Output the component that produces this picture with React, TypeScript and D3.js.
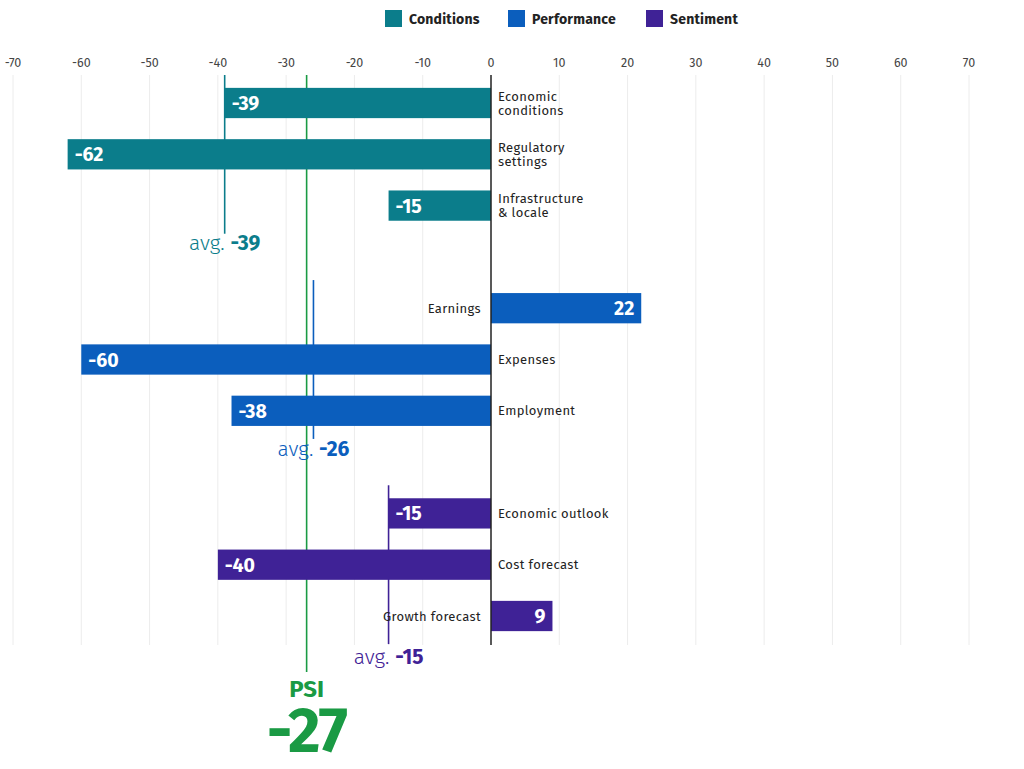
import React from "react";
import * as d3 from "d3";

const groups = ["Conditions", "Performance", "Sentiment"];
const groupColors = ["#0b7d8b", "#0b5ebd", "#3f2296"];
const categories = [
  ["Economic", "conditions"],
  ["Regulatory", "settings"],
  ["Infrastructure", "& locale"],
  ["Earnings"],
  ["Expenses"],
  ["Employment"],
  ["Economic outlook"],
  ["Cost forecast"],
  ["Growth forecast"],
];
const categoryGroup = [0, 0, 0, 1, 1, 1, 2, 2, 2];
const values = [-39, -62, -15, 22, -60, -38, -15, -40, 9];
const groupAverages = [-39, -26, -15];
const psiValue = -27;
const tickValues = [-70, -60, -50, -40, -30, -20, -10, 0, 10, 20, 30, 40, 50, 60, 70];

const W = 1024;
const H = 769;
const FONT = "'Fira Sans', Roboto, 'Noto Sans', sans-serif";
const PSI_COLOR = "#1a9a44";

export default function App() {
  const x = d3.scaleLinear().domain([-70, 70]).range([13, 969]);
  const slots = d3.range(categories.length + groups.length - 1);
  const y = d3
    .scaleBand<number>()
    .domain(slots)
    .range([77.35, 641.65])
    .paddingInner(0.41)
    .paddingOuter(0.205);
  const slotOf = (i: number) => i + categoryGroup[i];
  const bw = y.bandwidth();
  const gridTop = 75;
  const gridBottom = 645;
  const x0 = x(0);

  const legendX = [385, 508, 646];
  const avgLabelOffset = [16, 17, 20];
  const px = x(psiValue);

  return (
    <svg width={W} height={H} style={{ position: "absolute", left: 0, top: 0, fontFamily: FONT }}>
      <rect width={W} height={H} fill="#fff" />
      {/* legend */}
      {groups.map((g, i) => (
        <g key={g} transform={`translate(${legendX[i]},10)`}>
          <rect width={17} height={17} fill={groupColors[i]} />
          <text x={24} y={14} fontSize={14} fontWeight={700} fill="#222" letterSpacing={0.2}>
            {g}
          </text>
        </g>
      ))}
      {/* ticks and grid */}
      {tickValues.map((t) => (
        <g key={t}>
          <text x={x(t)} y={67} textAnchor="middle" fontSize={12.5} fill="#444">
            {t}
          </text>
          {t !== 0 && (
            <line x1={x(t)} x2={x(t)} y1={gridTop} y2={gridBottom} stroke="#ececec" strokeWidth={1} />
          )}
        </g>
      ))}
      {/* PSI line */}
      <line x1={px} x2={px} y1={gridTop} y2={672} stroke={PSI_COLOR} strokeWidth={1.6} />
      {/* group average lines */}
      {groups.map((g, gi) => {
        const idx = categoryGroup.map((c, i) => (c === gi ? i : -1)).filter((i) => i >= 0);
        const first = idx[0];
        const last = idx[idx.length - 1];
        const top = gi === 0 ? gridTop : (y(slotOf(first)) as number) - 13;
        const bottom = (y(slotOf(last)) as number) + bw + 13;
        const ax = x(groupAverages[gi]);
        return (
          <g key={g}>
            <line x1={ax} x2={ax} y1={top} y2={bottom} stroke={groupColors[gi]} strokeWidth={1.6} />
            <text x={ax} y={bottom + avgLabelOffset[gi]} textAnchor="middle" fontSize={21} fill={groupColors[gi]}>
              <tspan fontWeight={300}>avg. </tspan>
              <tspan fontWeight={700}>{groupAverages[gi]}</tspan>
            </text>
          </g>
        );
      })}
      {/* bars */}
      {values.map((v, i) => {
        const yy = y(slotOf(i)) as number;
        const c = groupColors[categoryGroup[i]];
        const left = Math.min(x(v), x0);
        const w = Math.abs(x(v) - x0);
        const lines = categories[i];
        const neg = v < 0;
        const cy = yy + bw / 2;
        const lx = neg ? x0 + 7 : x0 - 10;
        return (
          <g key={i}>
            <rect x={left} y={yy} width={w} height={bw} fill={c} />
            <text
              x={neg ? x(v) + 7 : x(v) - 7}
              y={cy + 7}
              textAnchor={neg ? "start" : "end"}
              fontSize={19.5}
              fontWeight={700}
              fill="#fff"
            >
              {v}
            </text>
            {lines.map((l, li) => (
              <text
                key={li}
                x={lx}
                y={cy + 4.5 + (li - (lines.length - 1) / 2) * 14}
                textAnchor={neg ? "start" : "end"}
                fontSize={13}
                fill="#222"
                letterSpacing={0.35}
              >
                {l}
              </text>
            ))}
          </g>
        );
      })}
      {/* zero axis */}
      <line x1={x0} x2={x0} y1={gridTop} y2={gridBottom} stroke="#222" strokeWidth={1.5} />
      {/* PSI label */}
      <text textAnchor="middle" fontWeight={700} fill={PSI_COLOR}>
        <tspan x={px} y={697} fontSize={24}>
          PSI
        </tspan>
        <tspan x={px} y={752} fontSize={63} letterSpacing={-1.5}>
          {psiValue}
        </tspan>
      </text>
    </svg>
  );
}
